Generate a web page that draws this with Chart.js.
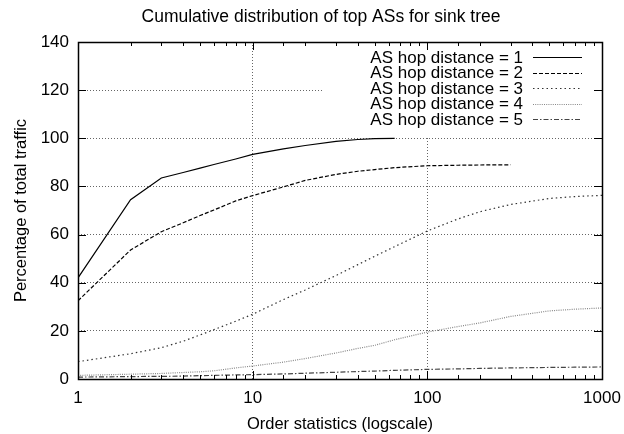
<!DOCTYPE html>
<html>
<head>
<meta charset="utf-8">
<script src="https://cdn.jsdelivr.net/npm/chart.js@4/dist/chart.umd.min.js"></script>
<style>
  html, body { margin: 0; padding: 0; background: #fff; }
  #wrap { width: 624px; height: 434px; }
</style>
</head>
<body>
<div id="wrap"><canvas id="myChart" width="624" height="434"></canvas></div>
<script>
const chartTitle = 'Cumulative distribution of top ASs for sink tree';
const xTitle = 'Order statistics (logscale)';
const yTitle = 'Percentage of total traffic';

const ranks = [1, 2, 3, 4, 5, 6, 8, 10, 15, 20, 30, 40, 50, 65, 100, 150, 200, 300, 500, 700, 1000];
const hop1 = [42, 74.5, 83.5, 85.8, 87.6, 89.1, 91.4, 93.3, 95.6, 97, 98.7, 99.5, 99.9, 100, null, null, null, null, null, null, null];
const hop2 = [32.5, 53.6, 61.2, 64.9, 67.9, 70.2, 74, 76.2, 79.8, 82.5, 85, 86.3, 87, 87.8, 88.6, 88.8, 88.9, 89, null, null, null];
const hop3 = [7.2, 10.5, 13, 15.7, 18.3, 20.5, 24, 26.9, 33, 37, 43, 47.5, 51, 55, 61.5, 66.5, 69.5, 72.5, 75, 75.8, 76.3];
const hop4 = [1.5, 2, 2.3, 2.7, 3, 3.4, 4.6, 5.4, 7, 8.5, 10.8, 12.7, 14, 16.3, 19.5, 21.8, 23.3, 26, 28.3, 29, 29.5];
const hop5 = [0.8, 1, 1.1, 1.2, 1.4, 1.5, 1.7, 1.8, 2.1, 2.4, 2.8, 3.1, 3.3, 3.6, 4, 4.2, 4.4, 4.6, 4.8, 4.9, 5];

const seriesLabels = ['AS hop distance = 1', 'AS hop distance = 2', 'AS hop distance = 3', 'AS hop distance = 4', 'AS hop distance = 5'];
const xTickLabels = [1, 10, 100, 1000];
const yTicks = [0, 20, 40, 60, 80, 100, 120, 140];

const FONT = 'Liberation Sans, Arial, Helvetica, sans-serif';

const points = (ys) => ranks.map((r, i) => ({ x: r, y: ys[i] }));

const styles = [
  { color: '#000', dash: [] },
  { color: '#000', dash: [4, 2] },
  { color: '#333', dash: [1.5, 3] },
  { color: '#888', dash: [1, 1.2] },
  { color: '#444', dash: [5, 2, 1.5, 2] },
];

const datasets = [hop1, hop2, hop3, hop4, hop5].map((ys, i) => ({
  label: seriesLabels[i],
  data: points(ys),
  borderColor: styles[i].color,
  borderDash: styles[i].dash,
  borderWidth: 1.2,
  pointRadius: 0,
  fill: false,
  tension: 0,
}));

// gnuplot style frame, inward ticks, key and title
const gnuplotFrame = {
  id: 'gnuplotFrame',
  beforeDatasetsDraw(chart) {
    const { ctx } = chart;
    ctx.save();
    ctx.fillStyle = '#fff';
    ctx.fillRect(324, 44, 271, 93);
    ctx.restore();
  },
  afterDraw(chart) {
    const { ctx, chartArea: a } = chart;
    const xs = chart.scales.x;
    const ys = chart.scales.y;
    ctx.save();
    ctx.strokeStyle = '#000';
    ctx.lineWidth = 1;
    ctx.setLineDash([]);
    ctx.beginPath();
    xs.ticks.forEach(t => {
      const px = Math.round(xs.getPixelForValue(t.value)) + 0.5;
      const len = xTickLabels.includes(t.value) ? 8 : 4;
      ctx.moveTo(px, a.bottom); ctx.lineTo(px, a.bottom - len);
      ctx.moveTo(px, a.top); ctx.lineTo(px, a.top + len);
    });
    yTicks.forEach(v => {
      const py = Math.round(ys.getPixelForValue(v)) + 0.5;
      ctx.moveTo(a.left, py); ctx.lineTo(a.left + 8, py);
      ctx.moveTo(a.right, py); ctx.lineTo(a.right - 8, py);
    });
    ctx.stroke();
    ctx.lineWidth = 1.5;
    ctx.strokeRect(Math.round(a.left) + 0.5, Math.round(a.top) + 0.5, Math.round(a.right - a.left), Math.round(a.bottom - a.top));

    // key
    ctx.font = '17px ' + FONT;
    ctx.fillStyle = '#000';
    ctx.textAlign = 'right';
    ctx.textBaseline = 'middle';
    chart.data.datasets.forEach((ds, i) => {
      const y = 57 + i * 15.5;
      ctx.fillText(ds.label, 523, y + 1);
      ctx.strokeStyle = ds.borderColor;
      ctx.lineWidth = 1.2;
      ctx.setLineDash(ds.borderDash);
      ctx.beginPath();
      ctx.moveTo(533, Math.round(y) + 0.5);
      ctx.lineTo(582, Math.round(y) + 0.5);
      ctx.stroke();
    });

    // title
    ctx.setLineDash([]);
    ctx.textAlign = 'center';
    ctx.font = '17.5px ' + FONT;
    ctx.fillText(chartTitle, 321, 17);
    ctx.restore();
  }
};

const ctx = document.getElementById('myChart').getContext('2d');
new Chart(ctx, {
  type: 'line',
  data: { datasets },
  plugins: [gnuplotFrame],
  options: {
    responsive: false,
    animation: false,
    layout: { padding: { top: 42, right: 22, bottom: 0, left: 0 } },
    plugins: {
      legend: { display: false },
      tooltip: { enabled: false },
    },
    scales: {
      x: {
        type: 'logarithmic',
        min: 1,
        max: 1000,
        afterFit: (scale) => {
          scale.height = 55;
          scale.paddingLeft = 0;
          scale.paddingRight = 0;
        },
        grid: {
          drawTicks: false,
          lineWidth: 1,
          color: (c) => (c.tick && [10, 100].includes(c.tick.value)) ? '#666' : 'rgba(0,0,0,0)',
        },
        border: { display: false, dash: [1, 2] },
        ticks: {
          autoSkip: false,
          maxRotation: 0,
          padding: 9,
          color: '#000',
          font: { family: FONT, size: 17 },
          callback: (v) => xTickLabels.includes(v) ? String(v) : '',
        },
        title: {
          display: true,
          text: xTitle,
          color: '#000',
          font: { family: FONT, size: 16.5 },
          padding: { top: 2, bottom: 0 },
        },
      },
      y: {
        min: 0,
        max: 140,
        afterFit: (scale) => { scale.width = 78; },
        grid: {
          drawTicks: false,
          lineWidth: 1,
          color: (c) => (c.tick && c.tick.value > 0 && c.tick.value < 140) ? '#666' : 'rgba(0,0,0,0)',
        },
        border: { display: false, dash: [1, 2] },
        ticks: {
          stepSize: 20,
          padding: 9,
          color: '#000',
          font: { family: FONT, size: 17 },
        },
        title: {
          display: true,
          text: yTitle,
          color: '#000',
          font: { family: FONT, size: 16.5 },
          padding: { top: 12, bottom: 0 },
        },
      },
    },
  },
});
</script>
</body>
</html>
